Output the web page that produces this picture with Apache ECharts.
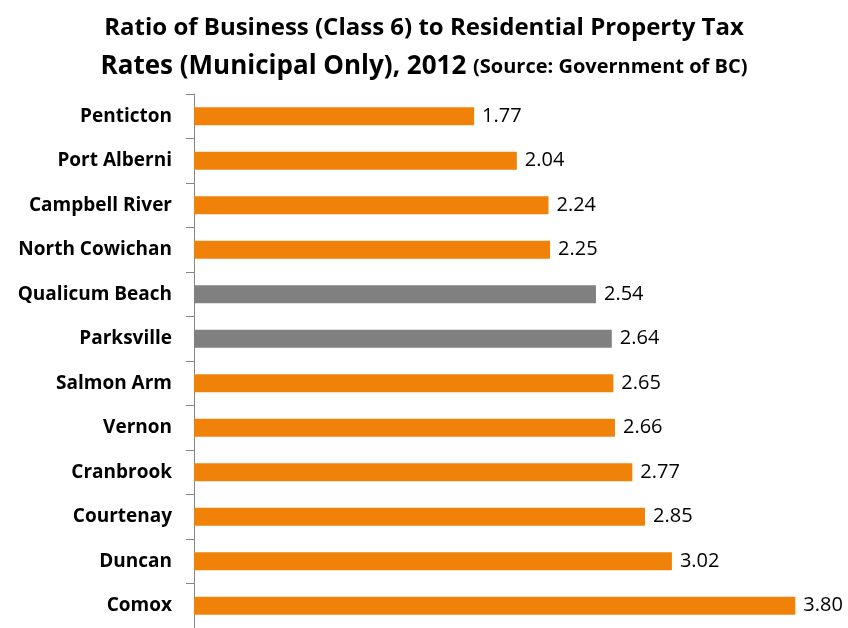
<!DOCTYPE html>
<html>
<head>
<meta charset="utf-8">
<script src="https://cdn.jsdelivr.net/npm/echarts@6/dist/echarts.min.js"></script>
<style>
  html, body { margin: 0; padding: 0; background: #fff; }
</style>
</head>
<body>
<div id="main" style="width:848px;height:628px;"></div>
<script>
var cities = ['Penticton', 'Port Alberni', 'Campbell River', 'North Cowichan', 'Qualicum Beach',
  'Parksville', 'Salmon Arm', 'Vernon', 'Cranbrook', 'Courtenay', 'Duncan', 'Comox'];
var ratios = [1.77, 2.04, 2.24, 2.25, 2.54, 2.64, 2.65, 2.66, 2.77, 2.85, 3.02, 3.80];
var highlighted = ['Qualicum Beach', 'Parksville'];

var orange = '#F0820A';
var grey = '#808080';

var barData = [];
for (var i = 0; i < cities.length; i++) {
  barData.push({
    value: ratios[i],
    itemStyle: { color: highlighted.indexOf(cities[i]) >= 0 ? grey : orange }
  });
}

var fam = 'Open Sans';
var chart = echarts.init(document.getElementById('main'));
var option = {
  animation: false,
  title: [{
    text: 'Ratio of Business (Class 6) to Residential Property Tax',
    left: 'center',
    top: 11,
    textStyle: { fontFamily: fam, fontWeight: 'bold', fontSize: 24, color: '#000' }
  }, {
    text: '{a|Rates (Municipal Only), 2012 }{b|(Source: Government of BC)}',
    left: 'center',
    top: 49,
    textStyle: {
      rich: {
        a: { fontFamily: fam, fontWeight: 'bold', fontSize: 26, color: '#000' },
        b: { fontFamily: fam, fontWeight: 'bold', fontSize: 20, color: '#000' }
      }
    }
  }],
  grid: { left: 194, right: 21, top: 94, bottom: -2, containLabel: false },
  xAxis: {
    type: 'value',
    min: 0,
    max: 4,
    show: false
  },
  yAxis: {
    type: 'category',
    data: cities,
    inverse: true,
    axisLine: { show: true, lineStyle: { color: '#868686', width: 1 } },
    axisTick: { show: true, length: 8, lineStyle: { color: '#868686' } },
    axisLabel: {
      margin: 22,
      fontFamily: fam,
      fontWeight: 'bold',
      fontSize: 19,
      color: '#000'
    }
  },
  series: [{
    type: 'bar',
    data: barData,
    barCategoryGap: '60%',
    label: {
      show: true,
      position: 'right',
      distance: 8,
      fontFamily: fam,
      fontSize: 20,
      color: '#000',
      formatter: function (p) { return p.value.toFixed(2); }
    }
  }]
};
chart.setOption(option);
</script>
</body>
</html>
